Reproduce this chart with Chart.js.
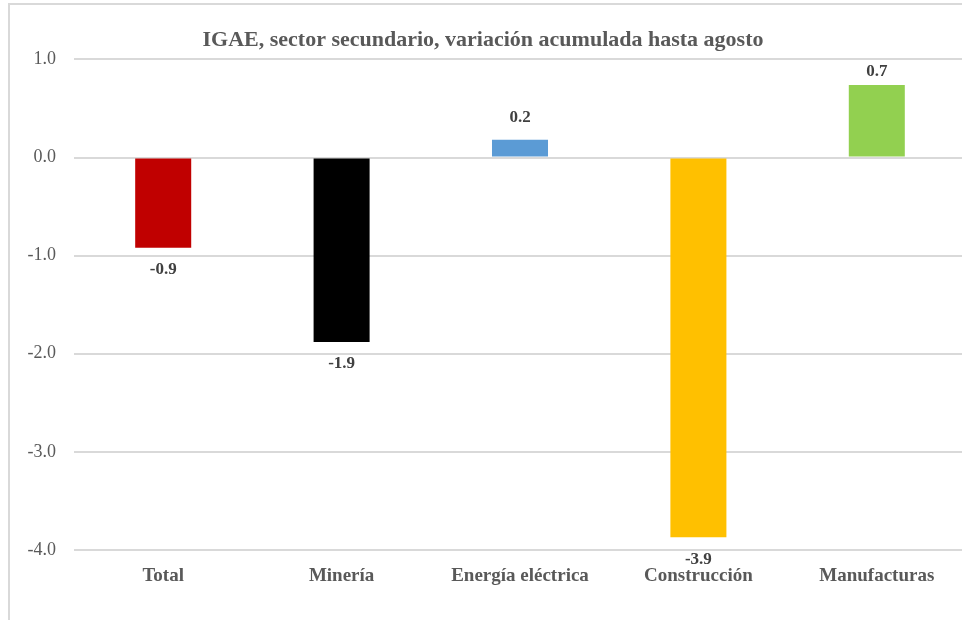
<!DOCTYPE html>
<html lang="es">
  <head>
    <meta charset="UTF-8" />
    <title>IGAE sector secundario</title>
    <script src="https://cdn.jsdelivr.net/npm/chart.js"></script>
    <style>
      html, body { margin: 0; padding: 0; background: #fff; overflow: hidden; }
      .marco { position: absolute; left: 8px; top: 3px; width: 1000px; height: 700px; border: 2px solid #D9D9D9; }
      .graph { position: absolute; left: 0; top: 0; width: 980px; height: 620px; }
    </style>
  </head>
<body>
    <div class="marco"></div>
    <div class="graph">
        <canvas id="graficoIGAE"></canvas>
    </div>

  <script>
    // datos
    const categorias = ["Total", "Minería", "Energía eléctrica", "Construcción", "Manufacturas"];
    const variacion = [-0.92, -1.88, 0.18, -3.87, 0.74];
    const colores = ["#C00000", "#000000", "#5B9BD5", "#FFC000", "#92D050"];
    const titulo = "IGAE, sector secundario, variación acumulada hasta agosto";

    const fuente = "'Liberation Serif', 'DejaVu Serif', serif";

    // etiquetas de valor sobre/debajo de cada barra
    const etiquetasValor = {
        id: "etiquetasValor",
        afterDatasetsDraw(chart) {
            const ctx = chart.ctx;
            const meta = chart.getDatasetMeta(0);
            ctx.save();
            ctx.font = "bold 17px " + fuente;
            ctx.fillStyle = "#404040";
            ctx.textAlign = "center";
            ctx.textBaseline = "middle";
            meta.data.forEach(function (barra, i) {
                const v = variacion[i];
                let y = v >= 0 ? barra.y - 22 : barra.y + 22;
                if (y < chart.chartArea.top + 12) y = chart.chartArea.top + 12;
                ctx.fillText(v.toFixed(1), barra.x, y);
            });
            ctx.restore();
        }
    };

    const config = {
        type: "bar",
        data: {
            labels: categorias,
            datasets: [{
                data: variacion,
                backgroundColor: colores,
                borderWidth: 0,
                barPercentage: 0.314,
                categoryPercentage: 1.0
            }]
        },
        options: {
            responsive: true,
            maintainAspectRatio: false,
            animation: false,
            layout: { padding: { left: 0, right: 14, top: 0, bottom: 0 } },
            plugins: {
                legend: { display: false },
                tooltip: { enabled: false },
                title: {
                    display: true,
                    text: titulo,
                    color: "#595959",
                    font: { family: fuente, size: 22, weight: "bold" },
                    padding: { top: 27, bottom: 6 }
                }
            },
            scales: {
                x: {
                    grid: { display: false },
                    border: { display: false },
                    ticks: {
                        color: "#595959",
                        font: { family: fuente, size: 19, weight: "bold" },
                        padding: 7,
                        maxRotation: 0
                    },
                    afterFit: function (escala) { escala.height = 70; }
                },
                y: {
                    min: -4,
                    max: 1,
                    grid: { color: "#D9D9D9", lineWidth: 2, drawTicks: false },
                    border: { display: false },
                    ticks: {
                        stepSize: 1,
                        color: "#595959",
                        font: { family: fuente, size: 18 },
                        padding: 18,
                        callback: function (v) { return v.toFixed(1); }
                    },
                    afterFit: function (escala) { escala.width = 74; }
                }
            }
        },
        plugins: [etiquetasValor]
    };

    new Chart(document.getElementById("graficoIGAE"), config);
  </script>
</body>
</html>
